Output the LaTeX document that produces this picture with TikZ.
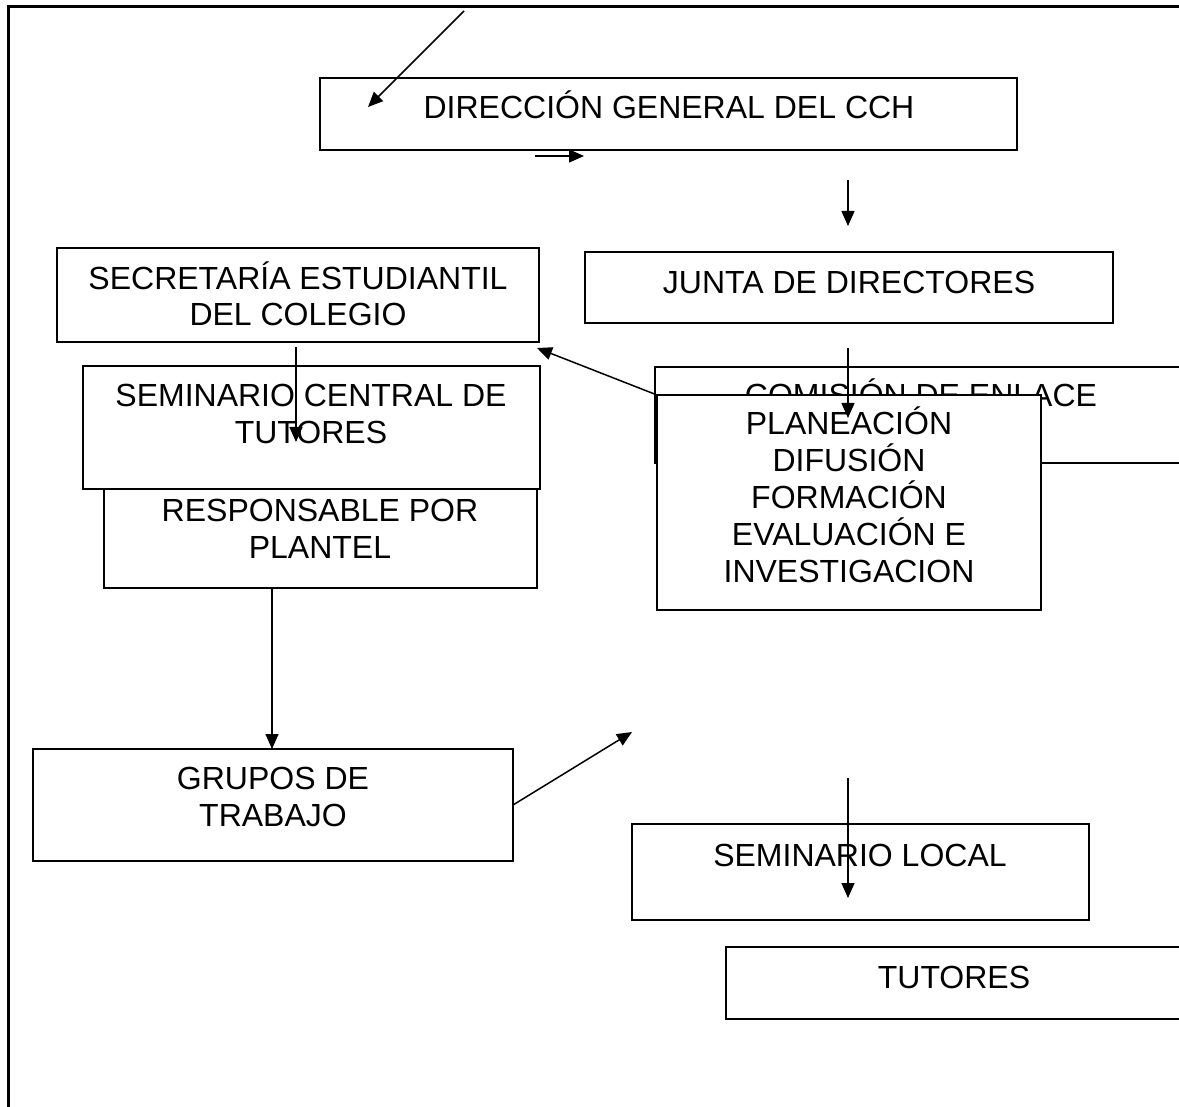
\documentclass[tikz,border=0pt]{standalone}
\usepackage{fontspec}
\setmainfont{Liberation Sans}
\usetikzlibrary{arrows.meta}
\begin{document}
\begin{tikzpicture}[x=1pt,y=-1pt,
  box/.style={draw, line width=1.9pt, fill=white, inner sep=0pt, outer sep=0pt, anchor=north west},
  lbl/.style={font=\fontsize{32}{36.8}\selectfont, inner sep=0pt, align=center, anchor=base},
  arr/.style={line width=1.5pt, -{Triangle[length=15pt,width=13pt]}},
  frame/.style={line width=3pt}]
\useasboundingbox (0,0) rectangle (1179,1107);
\clip (0,0) rectangle (1179,1107);
\fill[white] (0,0) rectangle (1179,1107);
% outer frame
\coordinate (fbl) at (8,1110);
\coordinate (ftl) at (8,7);
\coordinate (ftr) at (1182,7);
\draw[frame] (fbl) -- (ftl) -- (ftr);

% boxes (multi-line labels are placed by the baseline of their last line)
\node[box, minimum width=697pt, minimum height=72pt] (dir) at (320,78) {};
\node[lbl] (dirt) at (669,119) {DIRECCIÓN GENERAL DEL CCH};

\node[box, minimum width=528pt, minimum height=71pt] (junta) at (585,252) {};
\node[lbl] (juntat) at (849,294) {JUNTA DE DIRECTORES};

\node[box, minimum width=482pt, minimum height=94pt] (sec) at (57,248) {};
\node[lbl] (sect) at (298,326) {SECRETARÍA ESTUDIANTIL\\DEL COLEGIO};

\node[box, minimum width=433pt, minimum height=99pt] (resp) at (104,489) {};
\node[lbl] (respt) at (320,558) {RESPONSABLE POR\\PLANTEL};

\node[box, minimum width=457pt, minimum height=123pt] (semc) at (83,366) {};
\node[lbl] (semct) at (311,443) {SEMINARIO CENTRAL DE\\TUTORES};

\node[box, minimum width=600pt, minimum height=96pt] (com) at (655,367) {};
\node[lbl] (comt) at (921,407) {COMISIÓN DE ENLACE};

\node[box, minimum width=384pt, minimum height=215pt] (plan) at (657,395) {};
\node[lbl] (plant) at (849,582) {PLANEACIÓN\\DIFUSIÓN\\FORMACIÓN\\EVALUACIÓN E\\INVESTIGACION};

\node[box, minimum width=480pt, minimum height=112pt] (grp) at (33,749) {};
\node[lbl] (grpt) at (273,826) {GRUPOS DE\\TRABAJO};

\node[box, minimum width=457pt, minimum height=96pt] (semloc) at (632,824) {};
\node[lbl] (semlt) at (860,866) {SEMINARIO LOCAL};

\node[box, minimum width=500pt, minimum height=72pt] (tut) at (726,947) {};
\node[lbl] (tutt) at (954,988) {TUTORES};

% connector end points
\coordinate (a1) at (464,11);
\coordinate (a2) at (368,107);
\coordinate (b1) at (535,156);
\coordinate (b2) at (584,156);
\coordinate (c1) at (848,180);
\coordinate (c2) at (848,226);
\coordinate (d1) at (296,347);
\coordinate (d2) at (296,442);
\coordinate (e2) at (537,348);
\coordinate (f1) at (848,348);
\coordinate (f2) at (848,418);
\coordinate (g1) at (272,588);
\coordinate (h2) at (632,732);
\coordinate (i1) at (848,778);
\coordinate (i2) at (848,898);

% connectors
\draw[arr] (a1) -- (a2);
\draw[arr] (b1) -- (b2);
\draw[arr] (c1) -- (c2);
\draw[arr] (d1) -- (d2);
\draw[arr] (plan.north west) -- (e2);
\draw[arr] (f1) -- (f2);
\draw[arr] (g1) -- (g1 |- grp.north);
\draw[arr] (grp.east) -- (h2);
\draw[arr] (i1) -- (i2);
\end{tikzpicture}
\end{document}
